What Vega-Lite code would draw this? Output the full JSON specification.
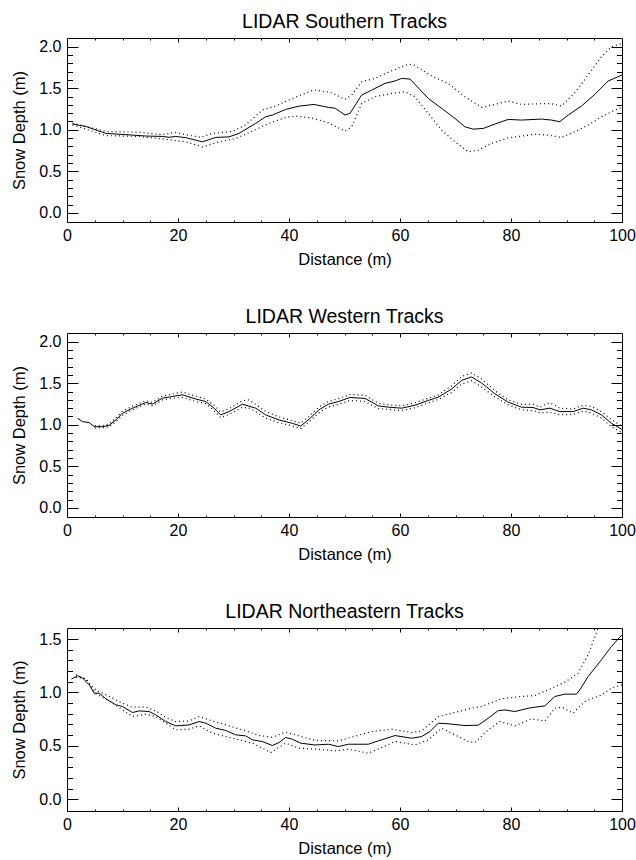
{
  "$schema": "https://vega.github.io/schema/vega-lite/v6.json",
  "background": "white",
  "padding": {"left": 11, "top": 11, "right": 2, "bottom": 5},
  "bounds": "flush",
  "spacing": 111,
  "datasets": {
    "south": [
      {"s":"m","d":1,"v":1.07},{"s":"m","d":3.4,"v":1.04},{"s":"m","d":7,"v":0.957},{"s":"m","d":11.8,"v":0.936},{"s":"m","d":14.2,"v":0.925},{"s":"m","d":17.2,"v":0.92},{"s":"m","d":18.4,"v":0.91},{"s":"m","d":19.6,"v":0.92},{"s":"m","d":21.4,"v":0.905},{"s":"m","d":24.4,"v":0.855},{"s":"m","d":26.8,"v":0.908},{"s":"m","d":29.2,"v":0.915},{"s":"m","d":31,"v":0.957},{"s":"m","d":34,"v":1.077},{"s":"m","d":35.8,"v":1.157},{"s":"m","d":37,"v":1.177},{"s":"m","d":39.4,"v":1.245},{"s":"m","d":41.8,"v":1.285},{"s":"m","d":44.5,"v":1.305},{"s":"m","d":47.1,"v":1.27},{"s":"m","d":48.3,"v":1.26},{"s":"m","d":50.1,"v":1.177},{"s":"m","d":51,"v":1.2},{"s":"m","d":53.1,"v":1.418},{"s":"m","d":54.9,"v":1.478},{"s":"m","d":57.3,"v":1.559},{"s":"m","d":59.1,"v":1.587},{"s":"m","d":60.3,"v":1.619},{"s":"m","d":61.8,"v":1.61},{"s":"m","d":65.1,"v":1.378},{"s":"m","d":67.5,"v":1.258},{"s":"m","d":69.9,"v":1.137},{"s":"m","d":71.7,"v":1.036},{"s":"m","d":73.2,"v":1.008},{"s":"m","d":75,"v":1.016},{"s":"m","d":77.1,"v":1.069},{"s":"m","d":79.5,"v":1.125},{"s":"m","d":81.9,"v":1.117},{"s":"m","d":85.5,"v":1.129},{"s":"m","d":87.3,"v":1.117},{"s":"m","d":88.8,"v":1.097},{"s":"m","d":90.3,"v":1.177},{"s":"m","d":92.7,"v":1.286},{"s":"m","d":95.1,"v":1.426},{"s":"m","d":97.5,"v":1.587},{"s":"m","d":100,"v":1.66},
      {"s":"h","d":1,"v":1.08},{"s":"h","d":7,"v":0.98},{"s":"h","d":13,"v":0.97},{"s":"h","d":17.2,"v":0.94},{"s":"h","d":19.6,"v":0.97},{"s":"h","d":21.4,"v":0.94},{"s":"h","d":24.1,"v":0.91},{"s":"h","d":26.2,"v":0.957},{"s":"h","d":29.8,"v":0.98},{"s":"h","d":32.2,"v":1.06},{"s":"h","d":35.2,"v":1.237},{"s":"h","d":37.6,"v":1.286},{"s":"h","d":40.6,"v":1.378},{"s":"h","d":44.5,"v":1.48},{"s":"h","d":47.7,"v":1.446},{"s":"h","d":50.1,"v":1.366},{"s":"h","d":51.3,"v":1.418},{"s":"h","d":53.1,"v":1.578},{"s":"h","d":55.5,"v":1.619},{"s":"h","d":58.5,"v":1.711},{"s":"h","d":61.5,"v":1.79},{"s":"h","d":62.7,"v":1.775},{"s":"h","d":65.7,"v":1.647},{"s":"h","d":68.7,"v":1.559},{"s":"h","d":71.7,"v":1.398},{"s":"h","d":74.7,"v":1.27},{"s":"h","d":77.1,"v":1.306},{"s":"h","d":79.5,"v":1.346},{"s":"h","d":81.9,"v":1.306},{"s":"h","d":85.5,"v":1.314},{"s":"h","d":87.3,"v":1.314},{"s":"h","d":89.1,"v":1.286},{"s":"h","d":91.5,"v":1.446},{"s":"h","d":93.9,"v":1.659},{"s":"h","d":96.3,"v":1.88},{"s":"h","d":98.1,"v":2.0},{"s":"h","d":100,"v":2.04},
      {"s":"l","d":1,"v":1.06},{"s":"l","d":7,"v":0.93},{"s":"l","d":13,"v":0.92},{"s":"l","d":17.2,"v":0.89},{"s":"l","d":21.4,"v":0.855},{"s":"l","d":24.4,"v":0.795},{"s":"l","d":27.4,"v":0.855},{"s":"l","d":30.4,"v":0.895},{"s":"l","d":33.4,"v":0.984},{"s":"l","d":36.4,"v":1.077},{"s":"l","d":39.4,"v":1.149},{"s":"l","d":41.2,"v":1.165},{"s":"l","d":44.5,"v":1.137},{"s":"l","d":47.1,"v":1.084},{"s":"l","d":50.1,"v":0.984},{"s":"l","d":51.3,"v":1.036},{"s":"l","d":53.1,"v":1.318},{"s":"l","d":55.5,"v":1.398},{"s":"l","d":58.5,"v":1.438},{"s":"l","d":60.9,"v":1.458},{"s":"l","d":62.7,"v":1.398},{"s":"l","d":65.1,"v":1.197},{"s":"l","d":67.5,"v":0.996},{"s":"l","d":69.9,"v":0.855},{"s":"l","d":72.3,"v":0.735},{"s":"l","d":74.1,"v":0.755},{"s":"l","d":76.5,"v":0.836},{"s":"l","d":79.5,"v":0.904},{"s":"l","d":81.9,"v":0.924},{"s":"l","d":84.3,"v":0.948},{"s":"l","d":86.7,"v":0.936},{"s":"l","d":89.1,"v":0.908},{"s":"l","d":91.5,"v":0.976},{"s":"l","d":93.9,"v":1.057},{"s":"l","d":96.3,"v":1.157},{"s":"l","d":98.7,"v":1.237},{"s":"l","d":100,"v":1.27}
    ],
    "west": [
      {"s":"m","d":1.9,"v":1.079},{"s":"m","d":2.8,"v":1.038},{"s":"m","d":4,"v":1.026},{"s":"m","d":4.9,"v":0.977},{"s":"m","d":6.4,"v":0.977},{"s":"m","d":7.6,"v":0.993},{"s":"m","d":8.8,"v":1.058},{"s":"m","d":10,"v":1.139},{"s":"m","d":11.8,"v":1.2},{"s":"m","d":14.2,"v":1.268},{"s":"m","d":15.4,"v":1.25},{"s":"m","d":17.2,"v":1.321},{"s":"m","d":19,"v":1.341},{"s":"m","d":20.8,"v":1.361},{"s":"m","d":23.2,"v":1.31},{"s":"m","d":25,"v":1.28},{"s":"m","d":26.5,"v":1.2},{"s":"m","d":27.7,"v":1.119},{"s":"m","d":29.2,"v":1.159},{"s":"m","d":31.6,"v":1.248},{"s":"m","d":34,"v":1.2},{"s":"m","d":35.8,"v":1.119},{"s":"m","d":38.2,"v":1.058},{"s":"m","d":40.6,"v":1.018},{"s":"m","d":42.1,"v":0.985},{"s":"m","d":43.6,"v":1.066},{"s":"m","d":45.4,"v":1.18},{"s":"m","d":47.1,"v":1.248},{"s":"m","d":48.9,"v":1.28},{"s":"m","d":51,"v":1.329},{"s":"m","d":53.7,"v":1.317},{"s":"m","d":56.1,"v":1.228},{"s":"m","d":57.9,"v":1.212},{"s":"m","d":60.3,"v":1.2},{"s":"m","d":62.7,"v":1.236},{"s":"m","d":65.1,"v":1.293},{"s":"m","d":66.9,"v":1.333},{"s":"m","d":69.3,"v":1.43},{"s":"m","d":71.1,"v":1.535},{"s":"m","d":72.9,"v":1.576},{"s":"m","d":74.7,"v":1.503},{"s":"m","d":77.1,"v":1.373},{"s":"m","d":79.5,"v":1.272},{"s":"m","d":81.9,"v":1.212},{"s":"m","d":84,"v":1.208},{"s":"m","d":85.2,"v":1.18},{"s":"m","d":87,"v":1.2},{"s":"m","d":88.8,"v":1.159},{"s":"m","d":91.2,"v":1.159},{"s":"m","d":93,"v":1.2},{"s":"m","d":94.5,"v":1.18},{"s":"m","d":96.3,"v":1.119},{"s":"m","d":98.1,"v":1.018},{"s":"m","d":100,"v":0.945},
      {"s":"h","d":5,"v":0.99},{"s":"h","d":6.4,"v":0.99},{"s":"h","d":7.6,"v":1.01},{"s":"h","d":8.8,"v":1.08},{"s":"h","d":10,"v":1.165},{"s":"h","d":11.8,"v":1.225},{"s":"h","d":14.2,"v":1.29},{"s":"h","d":15.4,"v":1.27},{"s":"h","d":17.2,"v":1.345},{"s":"h","d":19,"v":1.37},{"s":"h","d":20.8,"v":1.395},{"s":"h","d":23.2,"v":1.345},{"s":"h","d":25,"v":1.31},{"s":"h","d":26.5,"v":1.235},{"s":"h","d":27.7,"v":1.155},{"s":"h","d":29.2,"v":1.195},{"s":"h","d":31.6,"v":1.29},{"s":"h","d":32.8,"v":1.3},{"s":"h","d":34,"v":1.245},{"s":"h","d":35.8,"v":1.16},{"s":"h","d":38.2,"v":1.095},{"s":"h","d":40.6,"v":1.05},{"s":"h","d":42.1,"v":1.02},{"s":"h","d":43.6,"v":1.1},{"s":"h","d":45.4,"v":1.215},{"s":"h","d":47.1,"v":1.28},{"s":"h","d":48.9,"v":1.315},{"s":"h","d":51,"v":1.365},{"s":"h","d":53.7,"v":1.355},{"s":"h","d":56.1,"v":1.26},{"s":"h","d":57.9,"v":1.24},{"s":"h","d":60.3,"v":1.23},{"s":"h","d":62.7,"v":1.265},{"s":"h","d":65.1,"v":1.32},{"s":"h","d":66.9,"v":1.36},{"s":"h","d":69.3,"v":1.47},{"s":"h","d":71.1,"v":1.58},{"s":"h","d":72.9,"v":1.625},{"s":"h","d":74.7,"v":1.55},{"s":"h","d":77.1,"v":1.41},{"s":"h","d":79.5,"v":1.3},{"s":"h","d":81.9,"v":1.245},{"s":"h","d":84,"v":1.245},{"s":"h","d":85.2,"v":1.215},{"s":"h","d":87,"v":1.265},{"s":"h","d":88.8,"v":1.2},{"s":"h","d":91.2,"v":1.19},{"s":"h","d":93,"v":1.235},{"s":"h","d":94.5,"v":1.22},{"s":"h","d":96.3,"v":1.16},{"s":"h","d":98.1,"v":1.06},{"s":"h","d":100,"v":0.985},
      {"s":"l","d":5,"v":0.96},{"s":"l","d":6.4,"v":0.965},{"s":"l","d":7.6,"v":0.975},{"s":"l","d":8.8,"v":1.035},{"s":"l","d":10,"v":1.115},{"s":"l","d":11.8,"v":1.18},{"s":"l","d":14.2,"v":1.25},{"s":"l","d":15.4,"v":1.23},{"s":"l","d":17.2,"v":1.3},{"s":"l","d":19,"v":1.32},{"s":"l","d":20.8,"v":1.33},{"s":"l","d":23.2,"v":1.28},{"s":"l","d":25,"v":1.255},{"s":"l","d":26.5,"v":1.17},{"s":"l","d":27.7,"v":1.085},{"s":"l","d":29.2,"v":1.125},{"s":"l","d":31.6,"v":1.21},{"s":"l","d":32.8,"v":1.2},{"s":"l","d":34,"v":1.16},{"s":"l","d":35.8,"v":1.08},{"s":"l","d":38.2,"v":1.025},{"s":"l","d":40.6,"v":0.985},{"s":"l","d":42.1,"v":0.955},{"s":"l","d":43.6,"v":1.035},{"s":"l","d":45.4,"v":1.145},{"s":"l","d":47.1,"v":1.215},{"s":"l","d":48.9,"v":1.245},{"s":"l","d":51,"v":1.295},{"s":"l","d":53.7,"v":1.28},{"s":"l","d":56.1,"v":1.195},{"s":"l","d":57.9,"v":1.185},{"s":"l","d":60.3,"v":1.17},{"s":"l","d":62.7,"v":1.205},{"s":"l","d":65.1,"v":1.265},{"s":"l","d":66.9,"v":1.305},{"s":"l","d":69.3,"v":1.39},{"s":"l","d":71.1,"v":1.49},{"s":"l","d":72.9,"v":1.53},{"s":"l","d":74.7,"v":1.455},{"s":"l","d":77.1,"v":1.335},{"s":"l","d":79.5,"v":1.24},{"s":"l","d":81.9,"v":1.18},{"s":"l","d":84,"v":1.17},{"s":"l","d":85.2,"v":1.145},{"s":"l","d":87,"v":1.15},{"s":"l","d":88.8,"v":1.12},{"s":"l","d":91.2,"v":1.125},{"s":"l","d":93,"v":1.165},{"s":"l","d":94.5,"v":1.14},{"s":"l","d":96.3,"v":1.08},{"s":"l","d":98.1,"v":0.975},{"s":"l","d":100,"v":0.905}
    ],
    "ne": [
      {"s":"m","d":0.8,"v":1.125},{"s":"m","d":1.9,"v":1.156},{"s":"m","d":2.8,"v":1.135},{"s":"m","d":4,"v":1.071},{"s":"m","d":4.9,"v":0.993},{"s":"m","d":5.8,"v":0.993},{"s":"m","d":7,"v":0.94},{"s":"m","d":8.8,"v":0.884},{"s":"m","d":10,"v":0.868},{"s":"m","d":11.8,"v":0.812},{"s":"m","d":13,"v":0.827},{"s":"m","d":14.8,"v":0.821},{"s":"m","d":16,"v":0.79},{"s":"m","d":17.8,"v":0.727},{"s":"m","d":19.6,"v":0.687},{"s":"m","d":22,"v":0.696},{"s":"m","d":23.8,"v":0.727},{"s":"m","d":25,"v":0.712},{"s":"m","d":26.8,"v":0.665},{"s":"m","d":28.6,"v":0.644},{"s":"m","d":30.4,"v":0.603},{"s":"m","d":32.2,"v":0.593},{"s":"m","d":33.4,"v":0.556},{"s":"m","d":35.2,"v":0.54},{"s":"m","d":37,"v":0.503},{"s":"m","d":38.2,"v":0.531},{"s":"m","d":39.4,"v":0.578},{"s":"m","d":40.6,"v":0.562},{"s":"m","d":42.1,"v":0.525},{"s":"m","d":44.7,"v":0.508},{"s":"m","d":47.1,"v":0.515},{"s":"m","d":48.9,"v":0.493},{"s":"m","d":50.7,"v":0.515},{"s":"m","d":54.3,"v":0.515},{"s":"m","d":56.1,"v":0.547},{"s":"m","d":59.1,"v":0.596},{"s":"m","d":62.1,"v":0.571},{"s":"m","d":63.9,"v":0.587},{"s":"m","d":65.4,"v":0.634},{"s":"m","d":66.9,"v":0.712},{"s":"m","d":68.7,"v":0.706},{"s":"m","d":71.7,"v":0.69},{"s":"m","d":74.1,"v":0.693},{"s":"m","d":75.9,"v":0.759},{"s":"m","d":77.7,"v":0.83},{"s":"m","d":78.9,"v":0.836},{"s":"m","d":80.7,"v":0.821},{"s":"m","d":83.1,"v":0.852},{"s":"m","d":84.3,"v":0.862},{"s":"m","d":86.1,"v":0.874},{"s":"m","d":87.9,"v":0.962},{"s":"m","d":89.7,"v":0.984},{"s":"m","d":91.8,"v":0.984},{"s":"m","d":92.4,"v":1.024},{"s":"m","d":93.9,"v":1.149},{"s":"m","d":96.3,"v":1.306},{"s":"m","d":98.1,"v":1.43},{"s":"m","d":100,"v":1.54},
      {"s":"h","d":1.6,"v":1.165},{"s":"h","d":3.4,"v":1.12},{"s":"h","d":5.2,"v":1.024},{"s":"h","d":7.6,"v":0.962},{"s":"h","d":10,"v":0.899},{"s":"h","d":11.8,"v":0.862},{"s":"h","d":14.2,"v":0.862},{"s":"h","d":16,"v":0.827},{"s":"h","d":17.8,"v":0.765},{"s":"h","d":19.6,"v":0.727},{"s":"h","d":22,"v":0.733},{"s":"h","d":23.8,"v":0.774},{"s":"h","d":25.6,"v":0.743},{"s":"h","d":28.6,"v":0.696},{"s":"h","d":32.2,"v":0.64},{"s":"h","d":34.6,"v":0.596},{"s":"h","d":37,"v":0.581},{"s":"h","d":39.4,"v":0.628},{"s":"h","d":41.8,"v":0.593},{"s":"h","d":44.7,"v":0.55},{"s":"h","d":48.9,"v":0.547},{"s":"h","d":51.3,"v":0.581},{"s":"h","d":54.9,"v":0.634},{"s":"h","d":58.5,"v":0.656},{"s":"h","d":62.1,"v":0.624},{"s":"h","d":63.9,"v":0.64},{"s":"h","d":66.9,"v":0.774},{"s":"h","d":69.9,"v":0.812},{"s":"h","d":72.9,"v":0.852},{"s":"h","d":74.7,"v":0.868},{"s":"h","d":78.3,"v":0.94},{"s":"h","d":81.9,"v":0.962},{"s":"h","d":84.3,"v":0.971},{"s":"h","d":86.7,"v":1.024},{"s":"h","d":89.7,"v":1.096},{"s":"h","d":92.1,"v":1.18},{"s":"h","d":93.9,"v":1.352},{"s":"h","d":95.7,"v":1.603},{"s":"h","d":97.5,"v":1.85},{"s":"h","d":100,"v":2.1},
      {"s":"l","d":1.6,"v":1.14},{"s":"l","d":3.4,"v":1.13},{"s":"l","d":5.2,"v":0.987},{"s":"l","d":7.6,"v":0.921},{"s":"l","d":10,"v":0.837},{"s":"l","d":11.8,"v":0.774},{"s":"l","d":14.2,"v":0.796},{"s":"l","d":16,"v":0.774},{"s":"l","d":17.8,"v":0.712},{"s":"l","d":19.6,"v":0.65},{"s":"l","d":22,"v":0.656},{"s":"l","d":23.8,"v":0.687},{"s":"l","d":26.2,"v":0.618},{"s":"l","d":28.6,"v":0.587},{"s":"l","d":31,"v":0.556},{"s":"l","d":33.4,"v":0.525},{"s":"l","d":35.2,"v":0.478},{"s":"l","d":36.7,"v":0.437},{"s":"l","d":39.4,"v":0.525},{"s":"l","d":41.8,"v":0.478},{"s":"l","d":44.7,"v":0.47},{"s":"l","d":48.3,"v":0.453},{"s":"l","d":50.7,"v":0.468},{"s":"l","d":54.3,"v":0.431},{"s":"l","d":56.7,"v":0.484},{"s":"l","d":59.1,"v":0.54},{"s":"l","d":62.7,"v":0.509},{"s":"l","d":65.1,"v":0.556},{"s":"l","d":67.5,"v":0.665},{"s":"l","d":69.9,"v":0.603},{"s":"l","d":72.3,"v":0.54},{"s":"l","d":73.5,"v":0.531},{"s":"l","d":75.9,"v":0.65},{"s":"l","d":78,"v":0.727},{"s":"l","d":80.7,"v":0.687},{"s":"l","d":83.7,"v":0.752},{"s":"l","d":86.1,"v":0.733},{"s":"l","d":87.9,"v":0.852},{"s":"l","d":89.1,"v":0.862},{"s":"l","d":91.2,"v":0.806},{"s":"l","d":93.3,"v":0.915},{"s":"l","d":96.3,"v":0.977},{"s":"l","d":98.1,"v":1.04},{"s":"l","d":100,"v":1.071}
    ]
  },
  "vconcat": [
    {
      "title": "LIDAR Southern Tracks",
      "width": 555, "height": 184,
      "data": {"name": "south"},
      "layer": [
        {"transform": [{"filter": "datum.s === 'm'"}],
         "mark": {"type": "line", "color": "black", "strokeWidth": 1, "clip": true},
         "encoding": {
           "x": {"field": "d", "type": "quantitative", "scale": {"domain": [0, 100], "nice": false, "zero": false}, "axis": {"orient": "bottom", "values": [0,20,40,60,80,100], "tickSize": -4, "title": "Distance (m)"}},
           "y": {"field": "v", "type": "quantitative", "scale": {"domain": [-0.11, 2.105], "nice": false, "zero": false}, "axis": {"orient": "left", "values": [0,0.5,1,1.5,2], "format": ".1f", "tickSize": -11, "title": "Snow Depth (m)"}}}},
        {"transform": [{"filter": "datum.s === 'h'"}],
         "mark": {"type": "line", "color": "black", "strokeWidth": 1.2, "strokeDash": [1, 3], "clip": true},
         "encoding": {
           "x": {"field": "d", "type": "quantitative", "scale": {"domain": [0, 100], "nice": false, "zero": false}, "axis": {"orient": "bottom", "values": [5,10,15,25,30,35,45,50,55,65,70,75,85,90,95], "tickSize": -2, "labels": false, "title": null}},
           "y": {"field": "v", "type": "quantitative", "scale": {"domain": [-0.11, 2.105], "nice": false, "zero": false}, "axis": {"orient": "left", "values": [0.1,0.2,0.3,0.4,0.6,0.7,0.8,0.9,1.1,1.2,1.3,1.4,1.6,1.7,1.8,1.9], "tickSize": -5.5, "labels": false, "title": null}}}},
        {"transform": [{"filter": "datum.s === 'l'"}],
         "mark": {"type": "line", "color": "black", "strokeWidth": 1.2, "strokeDash": [1, 3], "clip": true},
         "encoding": {
           "x": {"field": "d", "type": "quantitative", "scale": {"domain": [0, 100], "nice": false, "zero": false}, "axis": {"orient": "top", "values": [20,40,60,80], "tickSize": -4, "labels": false, "title": null}},
           "y": {"field": "v", "type": "quantitative", "scale": {"domain": [-0.11, 2.105], "nice": false, "zero": false}, "axis": {"orient": "right", "values": [0,0.5,1,1.5,2], "tickSize": -11, "labels": false, "title": null}}}},
        {"transform": [{"filter": "datum.s === 'm'"}],
         "mark": {"type": "line", "color": "black", "opacity": 0, "clip": true},
         "encoding": {
           "x": {"field": "d", "type": "quantitative", "scale": {"domain": [0, 100], "nice": false, "zero": false}, "axis": {"orient": "top", "values": [5,10,15,25,30,35,45,50,55,65,70,75,85,90,95], "tickSize": -2, "labels": false, "title": null}},
           "y": {"field": "v", "type": "quantitative", "scale": {"domain": [-0.11, 2.105], "nice": false, "zero": false}, "axis": {"orient": "right", "values": [0.1,0.2,0.3,0.4,0.6,0.7,0.8,0.9,1.1,1.2,1.3,1.4,1.6,1.7,1.8,1.9], "tickSize": -5.5, "labels": false, "title": null}}}}
      ],
      "resolve": {"axis": {"x": "independent", "y": "independent"}}
    },
    {
      "title": "LIDAR Western Tracks",
      "width": 555, "height": 184,
      "data": {"name": "west"},
      "layer": [
        {"transform": [{"filter": "datum.s === 'm'"}],
         "mark": {"type": "line", "color": "black", "strokeWidth": 1, "clip": true},
         "encoding": {
           "x": {"field": "d", "type": "quantitative", "scale": {"domain": [0, 100], "nice": false, "zero": false}, "axis": {"orient": "bottom", "values": [0,20,40,60,80,100], "tickSize": -4, "title": "Distance (m)"}},
           "y": {"field": "v", "type": "quantitative", "scale": {"domain": [-0.11, 2.105], "nice": false, "zero": false}, "axis": {"orient": "left", "values": [0,0.5,1,1.5,2], "format": ".1f", "tickSize": -11, "title": "Snow Depth (m)"}}}},
        {"transform": [{"filter": "datum.s === 'h'"}],
         "mark": {"type": "line", "color": "black", "strokeWidth": 1.2, "strokeDash": [1, 3], "clip": true},
         "encoding": {
           "x": {"field": "d", "type": "quantitative", "scale": {"domain": [0, 100], "nice": false, "zero": false}, "axis": {"orient": "bottom", "values": [5,10,15,25,30,35,45,50,55,65,70,75,85,90,95], "tickSize": -2, "labels": false, "title": null}},
           "y": {"field": "v", "type": "quantitative", "scale": {"domain": [-0.11, 2.105], "nice": false, "zero": false}, "axis": {"orient": "left", "values": [0.1,0.2,0.3,0.4,0.6,0.7,0.8,0.9,1.1,1.2,1.3,1.4,1.6,1.7,1.8,1.9], "tickSize": -5.5, "labels": false, "title": null}}}},
        {"transform": [{"filter": "datum.s === 'l'"}],
         "mark": {"type": "line", "color": "black", "strokeWidth": 1.2, "strokeDash": [1, 3], "clip": true},
         "encoding": {
           "x": {"field": "d", "type": "quantitative", "scale": {"domain": [0, 100], "nice": false, "zero": false}, "axis": {"orient": "top", "values": [20,40,60,80], "tickSize": -4, "labels": false, "title": null}},
           "y": {"field": "v", "type": "quantitative", "scale": {"domain": [-0.11, 2.105], "nice": false, "zero": false}, "axis": {"orient": "right", "values": [0,0.5,1,1.5,2], "tickSize": -11, "labels": false, "title": null}}}},
        {"transform": [{"filter": "datum.s === 'm'"}],
         "mark": {"type": "line", "color": "black", "opacity": 0, "clip": true},
         "encoding": {
           "x": {"field": "d", "type": "quantitative", "scale": {"domain": [0, 100], "nice": false, "zero": false}, "axis": {"orient": "top", "values": [5,10,15,25,30,35,45,50,55,65,70,75,85,90,95], "tickSize": -2, "labels": false, "title": null}},
           "y": {"field": "v", "type": "quantitative", "scale": {"domain": [-0.11, 2.105], "nice": false, "zero": false}, "axis": {"orient": "right", "values": [0.1,0.2,0.3,0.4,0.6,0.7,0.8,0.9,1.1,1.2,1.3,1.4,1.6,1.7,1.8,1.9], "tickSize": -5.5, "labels": false, "title": null}}}}
      ],
      "resolve": {"axis": {"x": "independent", "y": "independent"}}
    },
    {
      "title": "LIDAR Northeastern Tracks",
      "width": 555, "height": 183,
      "data": {"name": "ne"},
      "layer": [
        {"transform": [{"filter": "datum.s === 'm'"}],
         "mark": {"type": "line", "color": "black", "strokeWidth": 1, "clip": true},
         "encoding": {
           "x": {"field": "d", "type": "quantitative", "scale": {"domain": [0, 100], "nice": false, "zero": false}, "axis": {"orient": "bottom", "values": [0,20,40,60,80,100], "tickSize": -4, "title": "Distance (m)"}},
           "y": {"field": "v", "type": "quantitative", "scale": {"domain": [-0.11, 1.603], "nice": false, "zero": false}, "axis": {"orient": "left", "values": [0,0.5,1,1.5], "format": ".1f", "tickSize": -11, "title": "Snow Depth (m)"}}}},
        {"transform": [{"filter": "datum.s === 'h'"}],
         "mark": {"type": "line", "color": "black", "strokeWidth": 1.2, "strokeDash": [1, 3], "clip": true},
         "encoding": {
           "x": {"field": "d", "type": "quantitative", "scale": {"domain": [0, 100], "nice": false, "zero": false}, "axis": {"orient": "bottom", "values": [5,10,15,25,30,35,45,50,55,65,70,75,85,90,95], "tickSize": -2, "labels": false, "title": null}},
           "y": {"field": "v", "type": "quantitative", "scale": {"domain": [-0.11, 1.603], "nice": false, "zero": false}, "axis": {"orient": "left", "values": [0.1,0.2,0.3,0.4,0.6,0.7,0.8,0.9,1.1,1.2,1.3,1.4], "tickSize": -5.5, "labels": false, "title": null}}}},
        {"transform": [{"filter": "datum.s === 'l'"}],
         "mark": {"type": "line", "color": "black", "strokeWidth": 1.2, "strokeDash": [1, 3], "clip": true},
         "encoding": {
           "x": {"field": "d", "type": "quantitative", "scale": {"domain": [0, 100], "nice": false, "zero": false}, "axis": {"orient": "top", "values": [20,40,60,80], "tickSize": -4, "labels": false, "title": null}},
           "y": {"field": "v", "type": "quantitative", "scale": {"domain": [-0.11, 1.603], "nice": false, "zero": false}, "axis": {"orient": "right", "values": [0,0.5,1,1.5], "tickSize": -11, "labels": false, "title": null}}}},
        {"transform": [{"filter": "datum.s === 'm'"}],
         "mark": {"type": "line", "color": "black", "opacity": 0, "clip": true},
         "encoding": {
           "x": {"field": "d", "type": "quantitative", "scale": {"domain": [0, 100], "nice": false, "zero": false}, "axis": {"orient": "top", "values": [5,10,15,25,30,35,45,50,55,65,70,75,85,90,95], "tickSize": -2, "labels": false, "title": null}},
           "y": {"field": "v", "type": "quantitative", "scale": {"domain": [-0.11, 1.603], "nice": false, "zero": false}, "axis": {"orient": "right", "values": [0.1,0.2,0.3,0.4,0.6,0.7,0.8,0.9,1.1,1.2,1.3,1.4], "tickSize": -5.5, "labels": false, "title": null}}}}
      ],
      "resolve": {"axis": {"x": "independent", "y": "independent"}}
    }
  ],
  "config": {
    "font": "Liberation Sans",
    "view": {"stroke": "black", "strokeWidth": 1},
    "axis": {"grid": false, "domain": false, "tickColor": "black", "tickWidth": 1, "labelColor": "black", "labelFontSize": 16, "labelFont": "Liberation Sans", "labelFlush": false, "labelOverlap": false, "titleFont": "Liberation Sans", "titleFontSize": 16.5, "titleFontWeight": "normal", "titleColor": "black"},
    "axisX": {"labelPadding": 9, "titlePadding": 8},
    "axisY": {"labelPadding": 17, "titlePadding": 11},
    "title": {"font": "Liberation Sans", "fontSize": 19.5, "fontWeight": "normal", "color": "black", "offset": 5}
  }
}
